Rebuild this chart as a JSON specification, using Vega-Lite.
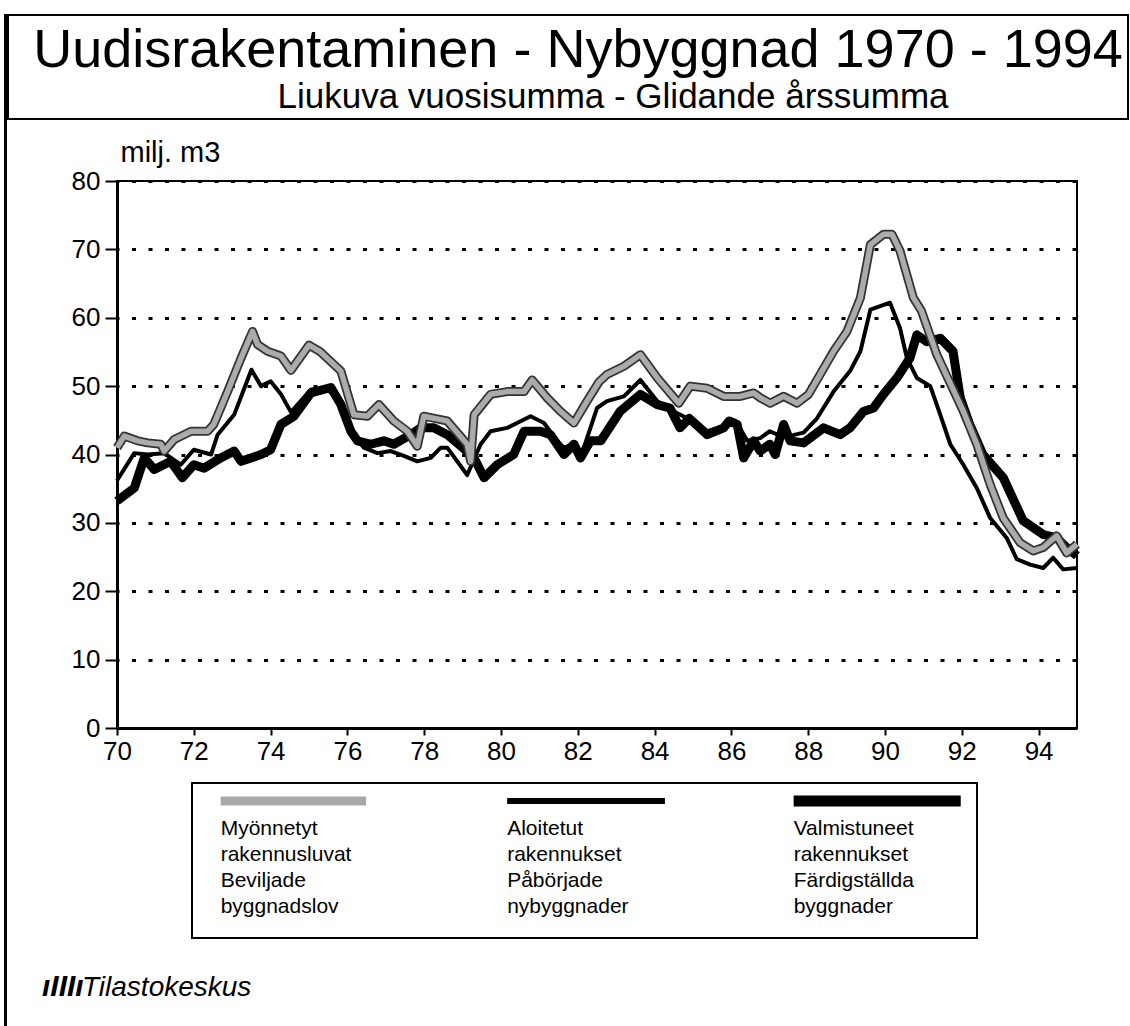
{
  "$schema": "https://vega.github.io/schema/vega-lite/v6.json",
  "padding": {"left": 3, "top": 13, "right": 0, "bottom": 0},
  "config": {
    "view": {"stroke": null},
    "font": "Liberation Sans",
    "text": {"color": "black"}
  },
  "datasets": {
    "permits": [
      {"year": 70.0, "value": 41.0}, {"year": 70.19, "value": 42.7}, {"year": 70.54, "value": 42.0}, {"year": 70.8, "value": 41.7},
      {"year": 71.14, "value": 41.5}, {"year": 71.23, "value": 40.5}, {"year": 71.49, "value": 42.2}, {"year": 71.93, "value": 43.4},
      {"year": 72.36, "value": 43.4}, {"year": 72.52, "value": 44.4}, {"year": 72.88, "value": 49.2}, {"year": 73.23, "value": 54.1},
      {"year": 73.53, "value": 58.0}, {"year": 73.66, "value": 56.1}, {"year": 73.92, "value": 55.1}, {"year": 74.27, "value": 54.4},
      {"year": 74.53, "value": 52.3}, {"year": 75.0, "value": 56.0}, {"year": 75.3, "value": 55.0}, {"year": 75.83, "value": 52.2},
      {"year": 76.17, "value": 45.8}, {"year": 76.52, "value": 45.6}, {"year": 76.82, "value": 47.3}, {"year": 77.21, "value": 44.9},
      {"year": 77.56, "value": 43.4}, {"year": 77.82, "value": 41.2}, {"year": 77.99, "value": 45.6}, {"year": 78.43, "value": 45.1},
      {"year": 78.6, "value": 44.9}, {"year": 79.12, "value": 41.5}, {"year": 79.21, "value": 39.0}, {"year": 79.3, "value": 45.8},
      {"year": 79.73, "value": 48.8}, {"year": 80.16, "value": 49.2}, {"year": 80.6, "value": 49.2}, {"year": 80.81, "value": 50.9},
      {"year": 81.2, "value": 48.3}, {"year": 81.55, "value": 46.3}, {"year": 81.9, "value": 44.6}, {"year": 82.24, "value": 47.8},
      {"year": 82.55, "value": 50.6}, {"year": 82.76, "value": 51.7}, {"year": 83.2, "value": 52.9}, {"year": 83.63, "value": 54.6},
      {"year": 84.07, "value": 51.2}, {"year": 84.63, "value": 47.5}, {"year": 84.93, "value": 50.0}, {"year": 85.37, "value": 49.7},
      {"year": 85.8, "value": 48.5}, {"year": 86.23, "value": 48.5}, {"year": 86.58, "value": 49.0}, {"year": 86.75, "value": 48.3},
      {"year": 87.01, "value": 47.5}, {"year": 87.36, "value": 48.5}, {"year": 87.71, "value": 47.5}, {"year": 88.01, "value": 48.8},
      {"year": 88.31, "value": 51.7}, {"year": 88.66, "value": 55.1}, {"year": 89.01, "value": 58.0}, {"year": 89.36, "value": 62.9},
      {"year": 89.62, "value": 70.7}, {"year": 89.96, "value": 72.2}, {"year": 90.18, "value": 72.2}, {"year": 90.39, "value": 69.8},
      {"year": 90.74, "value": 62.9}, {"year": 90.95, "value": 61.0}, {"year": 91.35, "value": 54.6}, {"year": 92.04, "value": 46.3},
      {"year": 92.39, "value": 41.5}, {"year": 92.74, "value": 35.6}, {"year": 93.08, "value": 30.7}, {"year": 93.52, "value": 27.1},
      {"year": 93.86, "value": 25.9}, {"year": 94.12, "value": 26.4}, {"year": 94.47, "value": 28.1}, {"year": 94.73, "value": 25.6},
      {"year": 95.0, "value": 26.9}
    ],
    "starts": [
      {"year": 70.0, "value": 36.2}, {"year": 70.45, "value": 40.2}, {"year": 70.8, "value": 40.0}, {"year": 71.23, "value": 40.2},
      {"year": 71.66, "value": 38.5}, {"year": 72.0, "value": 40.7}, {"year": 72.45, "value": 40.0}, {"year": 72.62, "value": 42.9},
      {"year": 73.05, "value": 45.8}, {"year": 73.5, "value": 52.4}, {"year": 73.75, "value": 50.0}, {"year": 74.0, "value": 50.7},
      {"year": 74.27, "value": 48.8}, {"year": 74.53, "value": 46.2}, {"year": 75.05, "value": 49.5}, {"year": 75.48, "value": 49.5},
      {"year": 75.83, "value": 47.8}, {"year": 76.0, "value": 43.9}, {"year": 76.43, "value": 41.0}, {"year": 76.78, "value": 40.2},
      {"year": 77.13, "value": 40.5}, {"year": 77.47, "value": 39.8}, {"year": 77.82, "value": 39.0}, {"year": 78.17, "value": 39.5},
      {"year": 78.43, "value": 41.0}, {"year": 78.6, "value": 41.0}, {"year": 79.12, "value": 37.0}, {"year": 79.47, "value": 41.5},
      {"year": 79.73, "value": 43.4}, {"year": 80.16, "value": 43.9}, {"year": 80.77, "value": 45.6}, {"year": 81.12, "value": 44.6},
      {"year": 81.46, "value": 42.0}, {"year": 81.64, "value": 41.0}, {"year": 81.9, "value": 41.5}, {"year": 82.07, "value": 39.5},
      {"year": 82.24, "value": 42.4}, {"year": 82.5, "value": 46.8}, {"year": 82.76, "value": 47.8}, {"year": 83.2, "value": 48.5},
      {"year": 83.63, "value": 50.9}, {"year": 84.07, "value": 47.8}, {"year": 84.5, "value": 46.3}, {"year": 84.85, "value": 45.3},
      {"year": 85.37, "value": 43.4}, {"year": 85.8, "value": 44.1}, {"year": 86.15, "value": 44.6}, {"year": 86.41, "value": 42.0},
      {"year": 86.75, "value": 42.4}, {"year": 87.0, "value": 43.4}, {"year": 87.36, "value": 42.5}, {"year": 87.88, "value": 43.2},
      {"year": 88.23, "value": 45.3}, {"year": 88.66, "value": 49.2}, {"year": 89.09, "value": 52.2}, {"year": 89.36, "value": 55.1},
      {"year": 89.62, "value": 61.2}, {"year": 90.13, "value": 62.2}, {"year": 90.39, "value": 58.5}, {"year": 90.57, "value": 54.1},
      {"year": 90.83, "value": 51.2}, {"year": 91.18, "value": 50.0}, {"year": 91.44, "value": 45.8}, {"year": 91.7, "value": 41.5},
      {"year": 92.04, "value": 38.5}, {"year": 92.39, "value": 35.1}, {"year": 92.74, "value": 30.7}, {"year": 93.17, "value": 27.8},
      {"year": 93.43, "value": 24.7}, {"year": 93.78, "value": 23.9}, {"year": 94.12, "value": 23.4}, {"year": 94.38, "value": 24.9},
      {"year": 94.64, "value": 23.2}, {"year": 95.0, "value": 23.4}
    ],
    "completions": [
      {"year": 70.0, "value": 33.2}, {"year": 70.45, "value": 35.1}, {"year": 70.71, "value": 39.5}, {"year": 70.97, "value": 37.8},
      {"year": 71.4, "value": 39.0}, {"year": 71.7, "value": 36.6}, {"year": 72.0, "value": 38.5}, {"year": 72.27, "value": 38.0},
      {"year": 72.7, "value": 39.5}, {"year": 73.05, "value": 40.5}, {"year": 73.23, "value": 39.0}, {"year": 73.49, "value": 39.5},
      {"year": 73.75, "value": 40.0}, {"year": 74.0, "value": 40.7}, {"year": 74.27, "value": 44.4}, {"year": 74.61, "value": 45.6},
      {"year": 75.05, "value": 49.0}, {"year": 75.57, "value": 49.8}, {"year": 75.83, "value": 47.3}, {"year": 76.09, "value": 43.4},
      {"year": 76.26, "value": 42.0}, {"year": 76.61, "value": 41.5}, {"year": 76.95, "value": 42.0}, {"year": 77.21, "value": 41.5},
      {"year": 77.65, "value": 42.9}, {"year": 77.91, "value": 43.9}, {"year": 78.25, "value": 43.9}, {"year": 78.6, "value": 42.9},
      {"year": 79.0, "value": 41.0}, {"year": 79.3, "value": 39.5}, {"year": 79.56, "value": 36.6}, {"year": 79.9, "value": 38.5},
      {"year": 80.33, "value": 40.0}, {"year": 80.6, "value": 43.4}, {"year": 81.03, "value": 43.4}, {"year": 81.29, "value": 42.9},
      {"year": 81.64, "value": 40.0}, {"year": 81.9, "value": 41.5}, {"year": 82.07, "value": 39.5}, {"year": 82.33, "value": 42.0},
      {"year": 82.6, "value": 42.0}, {"year": 83.1, "value": 46.3}, {"year": 83.63, "value": 48.8}, {"year": 84.07, "value": 47.3},
      {"year": 84.4, "value": 46.8}, {"year": 84.66, "value": 43.9}, {"year": 84.9, "value": 45.3}, {"year": 85.37, "value": 42.9},
      {"year": 85.8, "value": 43.9}, {"year": 85.94, "value": 44.9}, {"year": 86.15, "value": 44.4}, {"year": 86.32, "value": 39.5},
      {"year": 86.58, "value": 42.0}, {"year": 86.75, "value": 40.5}, {"year": 87.0, "value": 41.5}, {"year": 87.14, "value": 40.0},
      {"year": 87.36, "value": 44.4}, {"year": 87.53, "value": 42.0}, {"year": 87.88, "value": 41.7}, {"year": 88.4, "value": 43.9},
      {"year": 88.83, "value": 42.9}, {"year": 89.09, "value": 43.9}, {"year": 89.44, "value": 46.3}, {"year": 89.7, "value": 46.8},
      {"year": 89.96, "value": 48.8}, {"year": 90.31, "value": 51.2}, {"year": 90.65, "value": 54.1}, {"year": 90.83, "value": 57.5},
      {"year": 91.09, "value": 56.5}, {"year": 91.44, "value": 57.0}, {"year": 91.77, "value": 55.1}, {"year": 91.96, "value": 48.3},
      {"year": 92.2, "value": 44.5}, {"year": 92.55, "value": 40.0}, {"year": 93.08, "value": 36.6}, {"year": 93.6, "value": 30.3},
      {"year": 94.12, "value": 28.3}, {"year": 94.47, "value": 27.8}, {"year": 94.73, "value": 26.4}, {"year": 95.0, "value": 25.2}
    ],
    "legend": [
      {"series": "Myönnetyt rakennusluvat", "label": "Myönnetyt\nrakennusluvat\nBeviljade\nbyggnadslov"},
      {"series": "Aloitetut rakennukset", "label": "Aloitetut\nrakennukset\nPåbörjade\nnybyggnader"},
      {"series": "Valmistuneet rakennukset", "label": "Valmistuneet\nrakennukset\nFärdigställda\nbyggnader"}
    ]
  },
  "spacing": 0,
  "hconcat": [
    {
      "width": 1,
      "height": 1010,
      "view": {"stroke": "black", "strokeWidth": 2},
      "data": {"values": [{}]},
      "mark": "rule",
      "encoding": {}
    },
    {
      "spacing": 17,
      "vconcat": [
        {
          "width": 1120,
          "height": 104,
          "view": {"stroke": "black", "strokeWidth": 2},
          "data": {"values": [{"title": "Uudisrakentaminen - Nybyggnad 1970 - 1994", "subtitle": "Liukuva vuosisumma - Glidande årssumma"}]},
          "layer": [
            {"mark": {"type": "text", "fontSize": 54, "baseline": "alphabetic", "dy": 0, "dx": 10}, "encoding": {"text": {"field": "title"}}},
            {"mark": {"type": "text", "fontSize": 35, "baseline": "alphabetic", "dy": 41, "dx": 45}, "encoding": {"text": {"field": "subtitle"}}}
          ]
        },
        {
          "spacing": 0,
          "hconcat": [
            {"width": 62, "height": 10, "data": {"values": [{}]}, "mark": "rule", "encoding": {}},
            {
              "width": 960,
              "height": 547,
              "view": {"stroke": "black", "strokeWidth": 2},
              "encoding": {
                "x": {
                  "field": "year", "type": "quantitative",
                  "scale": {"domain": [70, 95], "nice": false, "zero": false},
                  "axis": {
                    "values": [70, 72, 74, 76, 78, 80, 82, 84, 86, 88, 90, 92, 94],
                    "format": "d", "grid": false, "title": null,
                    "domainColor": "black", "domainWidth": 3,
                    "tickColor": "black", "tickWidth": 2, "tickSize": 7,
                    "labelFontSize": 26, "labelColor": "black", "labelPadding": 3, "labelFlush": false
                  }
                },
                "y": {
                  "field": "value", "type": "quantitative",
                  "scale": {"domain": [0, 80], "nice": false},
                  "axis": {
                    "values": [0, 10, 20, 30, 40, 50, 60, 70, 80],
                    "grid": true, "gridColor": "black", "gridDash": [4, 12.5], "gridDashOffset": 2, "gridWidth": 3,
                    "domainColor": "black", "domainWidth": 3,
                    "tickColor": "black", "tickWidth": 2, "tickSize": 12,
                    "labelFontSize": 26, "labelColor": "black", "labelPadding": 5, "labelFlush": false,
                    "title": "milj. m3", "titleAngle": 0, "titleAlign": "left", "titleBaseline": "alphabetic",
                    "titleX": 3, "titleY": -20, "titleFontSize": 29, "titleFontWeight": "normal", "titleColor": "black"
                  }
                }
              },
              "layer": [
                {"data": {"name": "starts"}, "mark": {"type": "line", "color": "black", "strokeWidth": 4, "strokeJoin": "round"}},
                {"data": {"name": "completions"}, "mark": {"type": "line", "color": "black", "strokeWidth": 9, "strokeJoin": "round"}},
                {"data": {"name": "permits"}, "mark": {"type": "line", "color": "#333333", "strokeWidth": 9, "strokeJoin": "round"}},
                {"data": {"name": "permits"}, "mark": {"type": "line", "color": "#ababab", "strokeWidth": 5.5, "strokeJoin": "round"}}
              ]
            }
          ]
        },
        {
          "spacing": 0,
          "hconcat": [
            {"width": 183, "height": 10, "data": {"values": [{}]}, "mark": "rule", "encoding": {}},
            {
              "width": 785,
              "height": 155,
              "view": {"stroke": "black", "strokeWidth": 2},
              "data": {"name": "legend"},
              "encoding": {
                "x": {"field": "series", "type": "nominal", "sort": null, "bandPosition": 0,
                      "scale": {"paddingInner": 0.46, "paddingOuter": 0.1}, "axis": null}
              },
              "layer": [
                {
                  "transform": [{"filter": "datum.series == 'Myönnetyt rakennusluvat'"}],
                  "mark": {"type": "rule", "color": "#a8a8a8", "strokeWidth": 9},
                  "encoding": {
                    "x2": {"field": "series", "bandPosition": 0.94},
                    "y": {"datum": "key", "type": "nominal", "scale": {"type": "point", "domain": ["key", "text"], "range": [18, 35], "padding": 0}, "axis": null}
                  }
                },
                {
                  "transform": [{"filter": "datum.series == 'Aloitetut rakennukset'"}],
                  "mark": {"type": "rule", "color": "black", "strokeWidth": 6},
                  "encoding": {
                    "x2": {"field": "series", "bandPosition": 1.02},
                    "y": {"datum": "key", "type": "nominal"}
                  }
                },
                {
                  "transform": [{"filter": "datum.series == 'Valmistuneet rakennukset'"}],
                  "mark": {"type": "rule", "color": "black", "strokeWidth": 11},
                  "encoding": {
                    "x2": {"field": "series", "bandPosition": 1.08},
                    "y": {"datum": "key", "type": "nominal"}
                  }
                },
                {
                  "mark": {"type": "text", "align": "left", "baseline": "top", "lineBreak": "\n", "fontSize": 21, "lineHeight": 26},
                  "encoding": {
                    "y": {"datum": "text", "type": "nominal"},
                    "text": {"field": "label"}
                  }
                }
              ]
            }
          ]
        },
        {
          "width": 300,
          "height": 60,
          "data": {"values": [{"name": "Tilastokeskus", "logo": "ıIIIı"}]},
          "layer": [
            {"mark": {"type": "text", "align": "left", "baseline": "alphabetic", "fontSize": 30, "fontStyle": "italic", "fontWeight": "bold", "dx": -116, "dy": 10}, "encoding": {"text": {"field": "logo"}}},
            {"mark": {"type": "text", "align": "left", "baseline": "alphabetic", "fontSize": 28, "fontStyle": "italic", "dx": -76, "dy": 10}, "encoding": {"text": {"field": "name"}}}
          ]
        }
      ]
    }
  ]
}
